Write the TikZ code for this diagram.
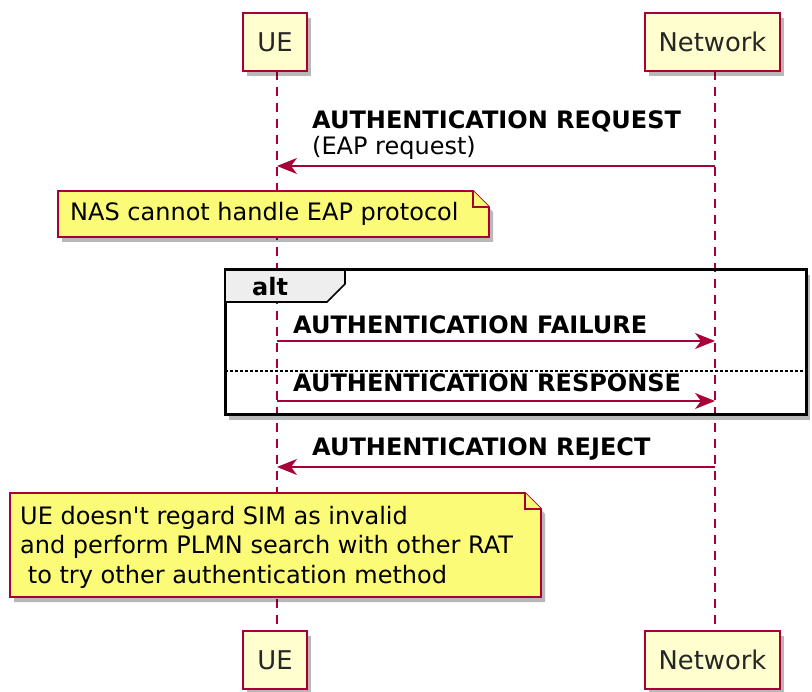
\documentclass[tikz,border=0pt]{standalone}
\usepackage{fontspec}
\setmainfont{DejaVu Sans}
\usetikzlibrary{shadows,arrows.meta}
\definecolor{pumlred}{HTML}{A80036}
\definecolor{partfill}{HTML}{FEFECE}
\definecolor{notefill}{HTML}{FBFB77}
\definecolor{tabfill}{HTML}{EEEEEE}
\begin{document}
\begin{tikzpicture}[x=1pt,y=-1pt,
  shad/.style={drop shadow={shadow xshift=4pt,shadow yshift=-5pt,opacity=0.28,fill=black}},
  part/.style={draw=pumlred,line width=2.6pt,fill=partfill,shad,inner sep=0pt,minimum height=58pt,font=\fontsize{25.8}{30}\selectfont,text=black!85},
  lifeline/.style={draw=pumlred,line width=1.8pt,dash pattern=on 9pt off 7pt},
  msg/.style={draw=pumlred,line width=1.8pt,-{Stealth[length=20pt,width=16pt,inset=6pt]}},
  msgtxt/.style={font=\bfseries\fontsize{24}{28}\selectfont,inner sep=0pt},
  plaintxt/.style={font=\fontsize{24}{28}\selectfont,inner sep=0pt},
  notebox/.style={draw=pumlred,line width=1.8pt,fill=notefill,shad},
  notetxt/.style={font=\fontsize{24}{29.5}\selectfont,inner sep=0pt,align=left,anchor=west}
]
\useasboundingbox (0,0) rectangle (812,692);
% alt frame background
\fill[white,shad] (225,270) rectangle (806,415);
% lifelines
\coordinate (ueA) at (277,71);
\coordinate (ueB) at (277,631);
\coordinate (nwA) at (715,71);
\coordinate (nwB) at (715,631);
\draw[lifeline] (ueA) -- (ueB);
\draw[lifeline] (nwA) -- (nwB);
% participants
\node[part,minimum width=64pt] (ueTop) at (275,42) {UE};
\node[part,minimum width=135pt] (nwTop) at (712.5,42) {Network};
\node[part,minimum width=64pt] (ueBot) at (275,660) {UE};
\node[part,minimum width=135pt] (nwBot) at (712.5,660) {Network};
% alt frame
\draw[line width=3pt] (225,270) rectangle (806,415);
\draw[line width=1.6pt,fill=tabfill] (225,270) -- (345,270) -- (345,284) -- (327,302) -- (225,302) -- cycle;
\node[msgtxt,anchor=west] (alt) at (252,287) {alt};
\draw[line width=1.8pt,dash pattern=on 2.5pt off 2.5pt] (225,371) -- (806,371);
% note 1
\draw[notebox] (58,191) -- (473,191) -- (489,207) -- (489,237) -- (58,237) -- cycle;
\draw[draw=pumlred,line width=1.8pt,fill=notefill] (473,191) -- (473,207) -- (489,207);
\node[notetxt] (n1) at (70,214) {NAS cannot handle EAP protocol};
% note 2
\draw[notebox] (10,493) -- (525,493) -- (541,509) -- (541,597) -- (10,597) -- cycle;
\draw[draw=pumlred,line width=1.8pt,fill=notefill] (525,493) -- (525,509) -- (541,509);
\node[notetxt] (n2) at (20,547) {UE doesn\textquotesingle t regard SIM as invalid\\and perform PLMN search with other RAT\\\hspace*{0.32em}to try other authentication method};
% messages
\coordinate (m1a) at (715,166); \coordinate (m1b) at (277,166);
\draw[msg] (m1a) -- (m1b);
\node[msgtxt,anchor=west] (t1) at (312,121) {AUTHENTICATION REQUEST};
\node[plaintxt,anchor=west] (t1b) at (312,148) {(EAP request)};
\coordinate (m2a) at (277,341); \coordinate (m2b) at (715,341);
\draw[msg] (m2a) -- (m2b);
\node[msgtxt,anchor=west] (t2) at (293,325) {AUTHENTICATION FAILURE};
\coordinate (m3a) at (277,401); \coordinate (m3b) at (715,401);
\draw[msg] (m3a) -- (m3b);
\node[msgtxt,anchor=west] (t3) at (293,383) {AUTHENTICATION RESPONSE};
\coordinate (m4a) at (715,467); \coordinate (m4b) at (277,467);
\draw[msg] (m4a) -- (m4b);
\node[msgtxt,anchor=west] (t4) at (312,449) {AUTHENTICATION REJECT};
\end{tikzpicture}
\end{document}
